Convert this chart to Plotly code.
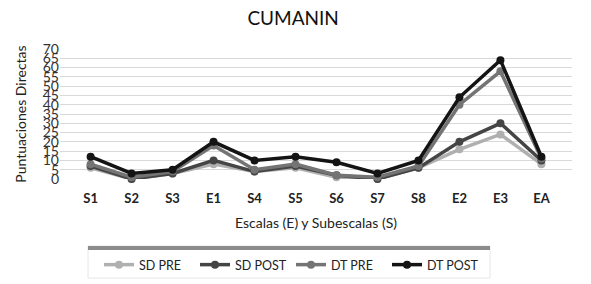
import plotly.graph_objects as go

categories = ["S1", "S2", "S3", "E1", "S4", "S5", "S6", "S7", "S8", "E2", "E3", "EA"]
sd_pre = [6, 0, 3, 8, 4, 6, 1, 0, 6, 16, 24, 8]
sd_post = [7, 0, 3, 10, 4, 7, 2, 0, 6, 20, 30, 10]
dt_pre = [8, 1, 4, 18, 5, 8, 2, 1, 7, 40, 58, 11]
dt_post = [12, 3, 5, 20, 10, 12, 9, 3, 10, 44, 64, 12]
y_ticks = list(range(0, 75, 5))

series = [
    ("SD PRE", sd_pre, "#b0b0b0"),
    ("SD POST", sd_post, "#454545"),
    ("DT PRE", dt_pre, "#747474"),
    ("DT POST", dt_post, "#141414"),
]

FONT = "Lato, Carlito, Calibri, sans-serif"

fig = go.Figure()
for name, vals, col in series:
    fig.add_trace(go.Scatter(
        x=categories, y=vals, name=name, mode="lines+markers",
        line=dict(color=col, width=3.5),
        marker=dict(color=col, size=8),
        cliponaxis=False,
    ))

fig.update_layout(
    width=591, height=284,
    margin=dict(l=60, r=19, t=49, b=105, autoexpand=False),
    paper_bgcolor="white", plot_bgcolor="white",
    font=dict(family=FONT, color="#222"),
    title=dict(text="CUMANIN", x=0.496, xanchor="center", y=1 - 18 / 284, yanchor="middle",
               font=dict(size=19, color="#111", family=FONT)),
    xaxis=dict(
        type="category", showgrid=False, showline=False, ticks="", automargin=False,
        ticklabelstandoff=10,
        tickfont=dict(size=13, color="#222", family=FONT, weight="bold"),
        title=dict(text="Escalas (E) y Subescalas (S)", font=dict(size=14, color="#222"), standoff=13),
    ),
    yaxis=dict(
        range=[0, 70], tickvals=y_ticks, showgrid=True, gridcolor="#d9d9d9", gridwidth=1.3,
        zeroline=False, showline=False, ticks="", automargin=False,
        tickfont=dict(size=14, color="#333"),
        title=dict(text="Puntuaciones Directas", font=dict(size=14, color="#222"), standoff=12),
    ),
    legend=dict(
        orientation="h", x=(99 - 60) / 512, xanchor="left", y=(179 - 250) / 130, yanchor="top",
        bgcolor="rgba(0,0,0,0)", font=dict(size=12.5, color="#222"),
        itemwidth=30, tracegroupgap=0, entrywidth=51, entrywidthmode="pixels",
    ),
    shapes=[
        dict(type="rect", xref="paper", yref="paper",
             x0=(88 - 60) / 512, x1=(490 - 60) / 512,
             y0=(179 - 278) / 130, y1=(179 - 246) / 130,
             fillcolor="white", line=dict(color="#e6e6e6", width=1), layer="below"),
        dict(type="rect", xref="paper", yref="paper",
             x0=(88 - 60) / 512, x1=(490 - 60) / 512,
             y0=(179 - 250) / 130, y1=(179 - 246) / 130,
             fillcolor="#8c8c8c", line=dict(width=0), layer="below"),
    ],
    showlegend=True,
)

fig.write_html("out.html", config={"displayModeBar": False},
               post_script="document.body.style.margin='0';")
